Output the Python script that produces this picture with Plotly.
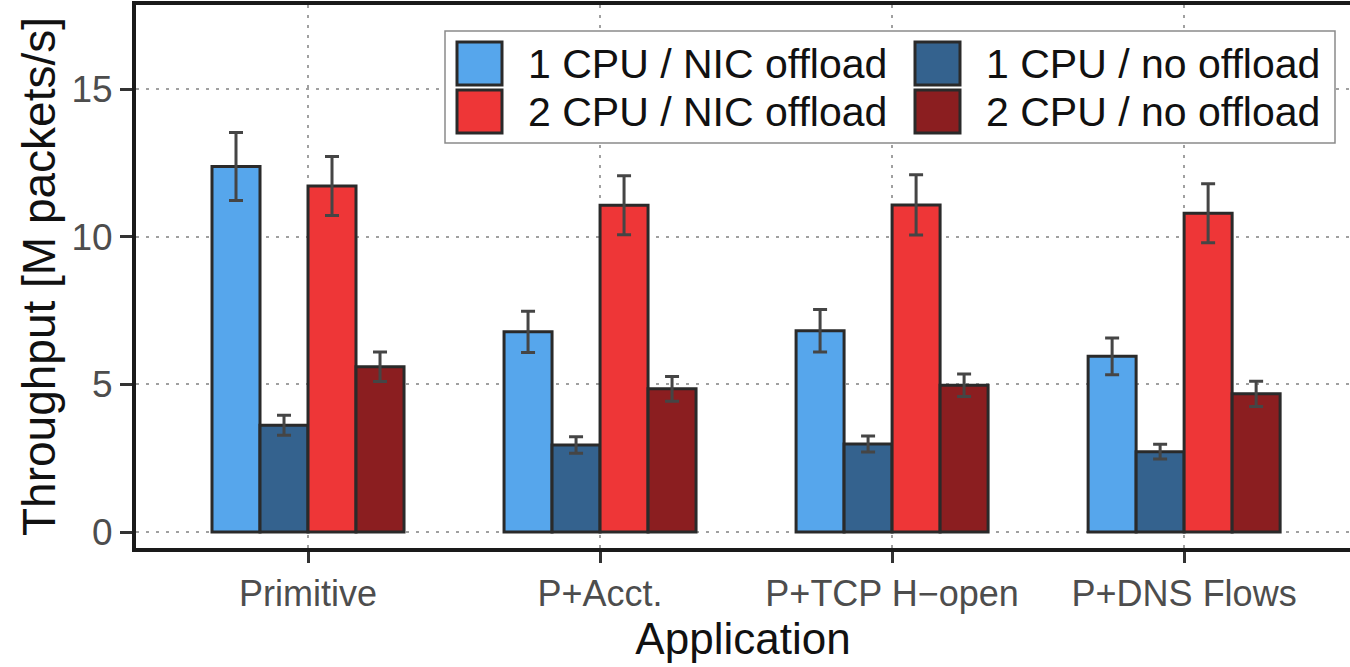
import plotly.graph_objects as go

# ---- data ----
categories = ["Primitive", "P+Acct.", "P+TCP H\u2212open", "P+DNS Flows"]
series_names = ["1 CPU / NIC offload", "1 CPU / no offload",
                "2 CPU / NIC offload", "2 CPU / no offload"]
cpu1_nic = [12.38, 6.78, 6.82, 5.95]
cpu1_no = [3.62, 2.95, 2.98, 2.72]
cpu2_nic = [11.72, 11.07, 11.08, 10.80]
cpu2_no = [5.60, 4.85, 4.97, 4.68]
err_cpu1_nic = [1.15, 0.70, 0.72, 0.62]
err_cpu1_no = [0.34, 0.28, 0.27, 0.25]
err_cpu2_nic = [1.00, 1.00, 1.02, 1.00]
err_cpu2_no = [0.50, 0.42, 0.38, 0.43]
y_ticks = [0, 5, 10, 15]

# ---- styles ----
colors = ["#56A6EC", "#34628E", "#EE3637", "#8B1E20"]
values = [cpu1_nic, cpu1_no, cpu2_nic, cpu2_no]
errors = [err_cpu1_nic, err_cpu1_no, err_cpu2_nic, err_cpu2_no]

W, H = 1350, 667
ML, MR, MT, MB = 136, 0, 5, 119
PW, PH = W - ML - MR, H - MT - MB
FONT = "Liberation Sans, Arial, sans-serif"


def px(x):
    return (x - ML) / PW


def py(y):
    return (H - MB - y) / PH


fig = go.Figure()
for name, vals, errs, col in zip(series_names, values, errors, colors):
    fig.add_trace(go.Bar(
        x=categories, y=vals, name=name,
        marker=dict(color=col, line=dict(color="#2a2a2a", width=3)),
        error_y=dict(type="data", array=errs, color="#454545",
                     thickness=3, width=7),
        showlegend=False,
    ))

# manual legend (large swatches like the reference)
shapes = [dict(type="rect", xref="paper", yref="paper",
               x0=px(445), x1=px(1335), y0=py(143), y1=py(31),
               line=dict(color="#8a8a8a", width=1.5), fillcolor="white",
               layer="above")]
annotations = []
col_x = [457, 915]
row_y = [(42, 85), (90, 133)]
for i, (name, col) in enumerate(zip(series_names, colors)):
    c = i % 2
    r = i // 2
    x0 = col_x[c]
    y0, y1 = row_y[r]
    shapes.append(dict(type="rect", xref="paper", yref="paper",
                       x0=px(x0), x1=px(x0 + 45), y0=py(y1), y1=py(y0),
                       line=dict(color="#2a2a2a", width=3), fillcolor=col,
                       layer="above"))
    annotations.append(dict(xref="paper", yref="paper", x=px(x0 + 69),
                            y=py((y0 + y1) / 2), text=name, showarrow=False,
                            xanchor="left", yanchor="middle",
                            font=dict(family=FONT, size=41, color="#111111")))

fig.update_layout(
    width=W, height=H,
    margin=dict(l=ML, r=MR, t=MT, b=MB, pad=0),
    paper_bgcolor="white", plot_bgcolor="white",
    barmode="group", bargap=0.3425, bargroupgap=0,
    shapes=shapes, annotations=annotations,
    font=dict(family=FONT),
)
fig.update_xaxes(
    range=[-0.589, 3.568],
    showline=True, linecolor="#1a1a1a", linewidth=4, mirror=True,
    showgrid=True, gridcolor="#a0a0a0", gridwidth=2, griddash="3px,7px",
    ticks="outside", ticklen=11, tickwidth=3, tickcolor="#333333",
    tickfont=dict(family=FONT, size=36, color="#4d4d4d"),
    title=dict(text="Application", standoff=10,
               font=dict(family=FONT, size=44, color="#111111")),
)
fig.update_yaxes(
    range=[-0.54, 17.85],
    tickvals=y_ticks, ticktext=[str(v) for v in y_ticks],
    showline=True, linecolor="#1a1a1a", linewidth=4, mirror=False,
    zeroline=False,
    showgrid=True, gridcolor="#a0a0a0", gridwidth=2, griddash="3px,7px",
    ticks="outside", ticklen=12, tickwidth=3, tickcolor="#333333",
    tickfont=dict(family=FONT, size=37, color="#4d4d4d"),
    title=dict(text="Throughput [M packets/s]", standoff=2,
               font=dict(family=FONT, size=46, color="#111111")),
)

fig.write_html("out.html")
